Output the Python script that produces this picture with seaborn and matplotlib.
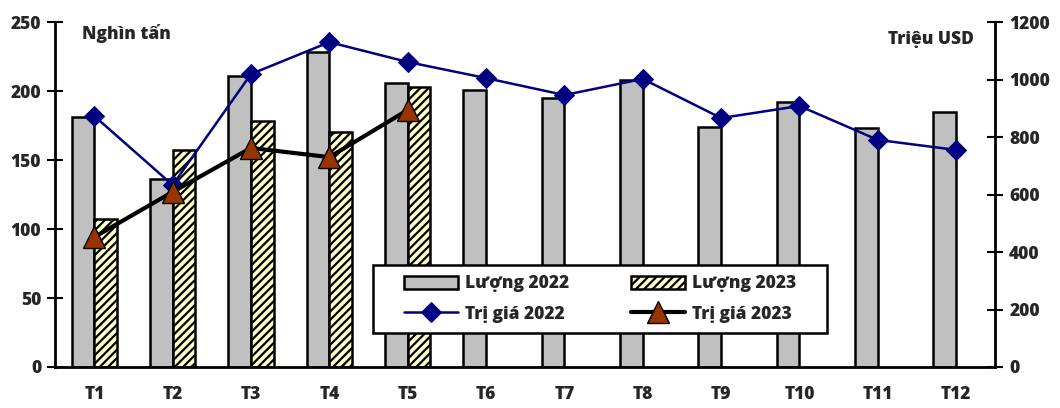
import numpy as np
import pandas as pd
import matplotlib
matplotlib.use("Agg")
import matplotlib.pyplot as plt
import seaborn as sns

# Dữ liệu
thang = ["T1", "T2", "T3", "T4", "T5", "T6", "T7", "T8", "T9", "T10", "T11", "T12"]
luong_2022 = [181, 136, 211, 228, 206, 201, 195, 208, 174, 192, 173, 185]
luong_2023 = [107, 157, 178, 170, 203, None, None, None, None, None, None, None]
tri_gia_2022 = [873, 633, 1019, 1130, 1061, 1005, 946, 1002, 866, 908, 790, 755]
tri_gia_2023 = [452, 609, 762, 730, 894]

sns.set_theme(style="white")
plt.rcParams["font.family"] = ["Open Sans", "DejaVu Sans"]
plt.rcParams["font.weight"] = "heavy"
plt.rcParams["hatch.linewidth"] = 1.6
plt.rcParams["hatch.color"] = "black"

FS = 12.5
W = "heavy"

df_bar = pd.DataFrame({
    "thang": thang * 2,
    "nam": ["Lượng 2022"] * 12 + ["Lượng 2023"] * 12,
    "luong": luong_2022 + luong_2023,
})
df_bar["luong"] = pd.to_numeric(df_bar["luong"])

fig = plt.figure(figsize=(10.6, 4.08), dpi=100)
ax = fig.add_axes([0.052, 0.1005, 0.887, 0.8455])

sns.barplot(data=df_bar, x="thang", y="luong", hue="nam", order=thang,
            palette={"Lượng 2022": "#C0C0C0", "Lượng 2023": "#FFFFCC"},
            width=0.58, edgecolor="black", linewidth=1.8, saturation=1,
            errorbar=None, legend=False, ax=ax)
n = len(thang)
for i, p in enumerate(ax.patches):
    if i >= n:
        p.set_hatch("////")

ax.set_ylim(0, 250)
ax.set_xlim(-0.5, n - 0.5)
ax.set_yticks(np.arange(0, 251, 50))
ax.set_xlabel("")
ax.set_ylabel("")
ax.set_xticks(np.arange(-0.5, n, 1), minor=False)
ax.set_xticklabels([])
ax.set_xticks(np.arange(n), minor=True)
ax.set_xticklabels(thang, minor=True, fontsize=FS, fontweight=W)
ax.tick_params(axis="x", which="major", direction="inout", length=10, width=1.5, color="black")
ax.tick_params(axis="x", which="minor", length=0, pad=14)
ax.tick_params(axis="y", direction="inout", length=12, width=1.5, color="black",
               labelsize=FS, pad=4)
for lbl in ax.get_yticklabels():
    lbl.set_fontweight(W)
for side in ["top", "right"]:
    ax.spines[side].set_visible(False)
for side in ["left", "bottom"]:
    ax.spines[side].set_color("black")
    ax.spines[side].set_linewidth(2)

ax2 = ax.twinx()
x_idx = np.arange(n)
sns.lineplot(x=x_idx, y=tri_gia_2022, ax=ax2, color="#000080", linewidth=1.8,
             marker="D", markersize=10, markeredgecolor="#000080", label="Trị giá 2022")
sns.lineplot(x=x_idx[:len(tri_gia_2023)], y=tri_gia_2023, ax=ax2, color="black",
             linewidth=3, marker="^", markersize=16, markerfacecolor="#993300",
             markeredgecolor="black", markeredgewidth=1, label="Trị giá 2023")
ax2.set_ylim(0, 1200)
ax2.set_yticks(np.arange(0, 1201, 200))
ax2.tick_params(axis="y", direction="inout", length=12, width=1.5, color="black",
                labelsize=FS, pad=4)
for lbl in ax2.get_yticklabels():
    lbl.set_fontweight(W)
for side in ["top", "left", "bottom"]:
    ax2.spines[side].set_visible(False)
ax2.spines["right"].set_color("black")
ax2.spines["right"].set_linewidth(2)
ax2.set_xlim(-0.5, n - 0.5)
ax2.grid(False)
ax.grid(False)

ax.text(0.029, 0.995, "Nghìn tấn", transform=ax.transAxes, fontsize=FS,
        fontweight=W, va="top", ha="left")
ax.text(0.977, 0.975, "Triệu USD", transform=ax.transAxes, fontsize=FS,
        fontweight=W, va="top", ha="right")

# Chú giải: khung vẽ riêng, chú giải không khung đặt giữa
khung = plt.Rectangle((0.338, 0.0986), 0.483, 0.197, transform=ax2.transAxes,
                      facecolor="white", edgecolor="black", linewidth=1.8, zorder=4.5)
ax2.add_patch(khung)
h_l22 = plt.Rectangle((0, 0), 1, 1, facecolor="#C0C0C0", edgecolor="black", linewidth=1.8)
h_l23 = plt.Rectangle((0, 0), 1, 1, facecolor="#FFFFCC", edgecolor="black", linewidth=1.8, hatch="////")
lh, ll = ax2.get_legend_handles_labels()
leg = ax2.legend([h_l22, lh[0], h_l23, lh[1]],
                 ["Lượng 2022", ll[0], "Lượng 2023", ll[1]],
                 ncol=2, loc="center", bbox_to_anchor=(0.5795, 0.1971),
                 frameon=False, handlelength=3.1, handleheight=0.8,
                 borderpad=0.2, labelspacing=0.75, columnspacing=3.6, handletextpad=0.4,
                 prop={"weight": W, "size": FS})
leg.set_zorder(5)

fig.savefig("out.png", dpi=100)
